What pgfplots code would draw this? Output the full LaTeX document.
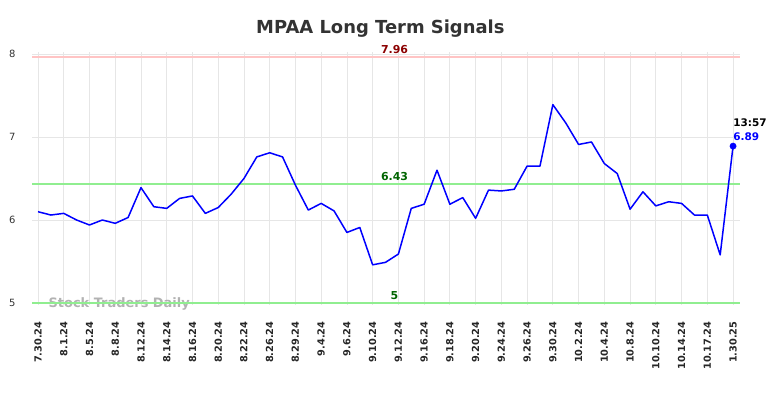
\documentclass[border=0pt]{standalone}
\usepackage{fontspec}
\setmainfont{DejaVu Sans}
\usepackage{pgfplots}
\usepackage{pgfplotstable}
\pgfplotsset{compat=1.18}
\definecolor{titlegray}{HTML}{333333}
\definecolor{gridgray}{HTML}{E6E6E6}
\definecolor{lvlred}{HTML}{FFC4C4}
\definecolor{lvlgreen}{HTML}{90EE90}
\definecolor{darkred}{HTML}{8B0000}
\definecolor{darkgreen}{HTML}{006400}
\pgfplotstableread{
idx val
0 6.10
1 6.06
2 6.08
3 6.00
4 5.94
5 6.00
6 5.96
7 6.03
8 6.39
9 6.16
10 6.14
11 6.26
12 6.29
13 6.08
14 6.15
15 6.31
16 6.50
17 6.76
18 6.81
19 6.76
20 6.42
21 6.12
22 6.20
23 6.11
24 5.85
25 5.91
26 5.46
27 5.49
28 5.59
29 6.14
30 6.19
31 6.60
32 6.19
33 6.27
34 6.02
35 6.36
36 6.35
37 6.37
38 6.65
39 6.65
40 7.39
41 7.17
42 6.91
43 6.94
44 6.68
45 6.56
46 6.13
47 6.34
48 6.17
49 6.22
50 6.20
51 6.06
52 6.06
53 5.58
54 6.89
}\prices
\begin{document}
\begin{tikzpicture}
\path[use as bounding box] (-32bp,-93bp) rectangle (752bp,305bp);
\begin{axis}[
  at={(0,0)}, anchor=south west, scale only axis,
  width=708bp, height=253bp,
  xmin=-0.466, xmax=54.54, ymin=4.976, ymax=8.024,
  axis line style={draw=none}, major tick length=0pt,
  xtick={0,2,...,54},
  xticklabels={7.30.24,8.1.24,8.5.24,8.8.24,8.12.24,8.14.24,8.16.24,8.20.24,8.22.24,8.26.24,8.29.24,9.4.24,9.6.24,9.10.24,9.12.24,9.16.24,9.18.24,9.20.24,9.24.24,9.26.24,9.30.24,10.2.24,10.4.24,10.8.24,10.10.24,10.14.24,10.17.24,1.30.25},
  ytick={5,6,7,8},
  grid=major, grid style={draw=gridgray, line width=0.8bp},
  xticklabel style={rotate=90, anchor=east, xshift=-13bp, font=\fontsize{9.8}{10}\selectfont\bfseries, text=black!85},
  yticklabel style={anchor=east, xshift=-13bp, font=\fontsize{10}{10}\selectfont, text=titlegray},
  /pgf/number format/assume math mode=true,
  clip=false,
]
\node[font=\fontsize{13}{13}\selectfont\bfseries, text=gray!75, opacity=0.8, anchor=base west] at (axis cs:0.55,4.95) {Stock Traders Daily};
\addplot[draw=lvlred, line width=2bp] coordinates {(-0.466,7.96) (54.54,7.96)};
\addplot[draw=lvlgreen, line width=2bp] coordinates {(-0.466,6.43) (54.54,6.43)};
\addplot[draw=lvlgreen, line width=2bp] coordinates {(-0.466,5) (54.54,5)};
\addplot[draw=blue, line width=1.5bp, line join=round] table[x=idx, y=val] {\prices};
\addplot[only marks, mark=*, mark size=3.2bp, blue] coordinates {(54,6.89)};
\node[font=\fontsize{11}{11}\selectfont\bfseries, text=darkred, anchor=south] at (axis cs:27.7,7.962) {7.96};
\node[font=\fontsize{11}{11}\selectfont\bfseries, text=darkgreen, anchor=south] at (axis cs:27.7,6.432) {6.43};
\node[font=\fontsize{11}{11}\selectfont\bfseries, text=darkgreen, anchor=south] at (axis cs:27.7,5.002) {5};
\node[font=\fontsize{10.5}{10.5}\selectfont\bfseries, text=blue, anchor=south west, inner sep=0pt] at (axis cs:54,6.95) {6.89};
\node[font=\fontsize{10.5}{10.5}\selectfont\bfseries, text=black, anchor=south west, inner sep=0pt] at (axis cs:54,7.12) {13:57};
\node[font=\fontsize{18}{18}\selectfont\bfseries, text=titlegray] at (axis cs:26.6,8.31) {MPAA Long Term Signals};
\end{axis}
\end{tikzpicture}
\end{document}
